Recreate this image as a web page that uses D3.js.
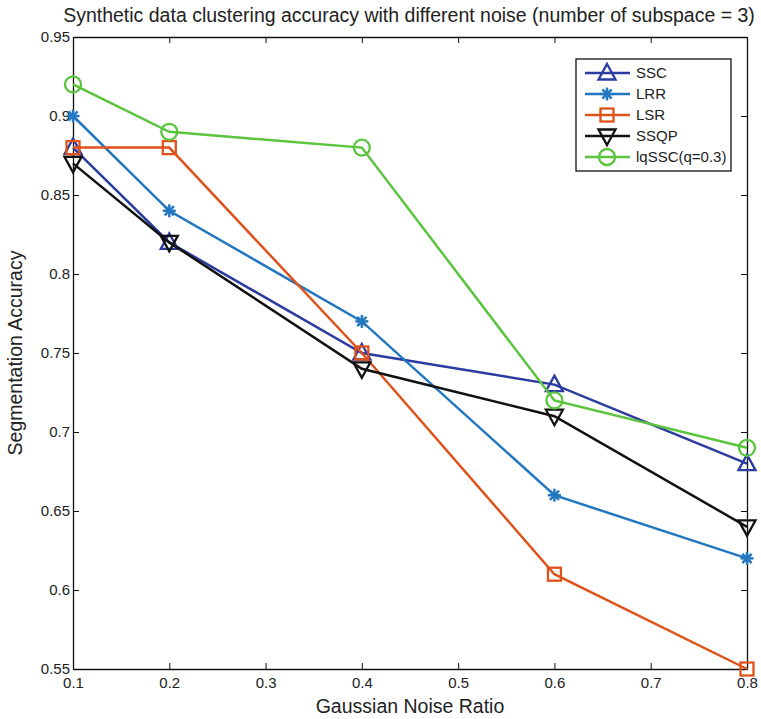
<!DOCTYPE html>
<html>
<head>
<meta charset="utf-8">
<script src="https://cdn.jsdelivr.net/npm/d3@7"></script>
<style>
  body { margin: 0; background: #fff; }
  svg { font-family: "Liberation Sans", Arial, sans-serif; }
</style>
</head>
<body>
<script>
// data
const noise = [0.1, 0.2, 0.4, 0.6, 0.8];
const ssc   = [0.88, 0.82, 0.75, 0.73, 0.68];
const lrr   = [0.90, 0.84, 0.77, 0.66, 0.62];
const lsr   = [0.88, 0.88, 0.75, 0.61, 0.55];
const ssqp  = [0.87, 0.82, 0.74, 0.71, 0.64];
const lqssc = [0.92, 0.89, 0.88, 0.72, 0.69];
const xTicks = [0.1, 0.2, 0.3, 0.4, 0.5, 0.6, 0.7, 0.8];
const yTicks = [0.55, 0.6, 0.65, 0.7, 0.75, 0.8, 0.85, 0.9, 0.95];

const series = [
    { name: "SSC", values: ssc, color: "#2b3b9f", marker: "tri" },
    { name: "LRR", values: lrr, color: "#2377c0", marker: "star" },
    { name: "LSR", values: lsr, color: "#e0521b", marker: "square" },
    { name: "SSQP", values: ssqp, color: "#111111", marker: "tridown" },
    { name: "lqSSC(q=0.3)", values: lqssc, color: "#5ac43d", marker: "circle" }
];

const width = 761;
const height = 719;
const marginTop = 37;
const marginRight = 14;
const marginBottom = 50;
const marginLeft = 73;

const x = d3.scaleLinear()
    .domain([0.1, 0.8])
    .range([marginLeft, width - marginRight]);

const y = d3.scaleLinear()
    .domain([0.55, 0.95])
    .range([height - marginBottom, marginTop]);

const svg = d3.select("body").append("svg")
    .attr("width", width)
    .attr("height", height)
    .attr("viewBox", [0, 0, width, height]);

const fmt = d => d3.format("")(+d.toFixed(2));

// axes (ticks inside, boxed)
svg.append("g")
    .attr("transform", `translate(0,${height - marginBottom})`)
    .call(d3.axisBottom(x).tickValues(xTicks).tickFormat(fmt).tickSizeInner(-6).tickSizeOuter(0).tickPadding(8))
    .call(g => g.selectAll("text").style("font-size", "15px").attr("fill", "#222"));

svg.append("g")
    .attr("transform", `translate(0,${marginTop})`)
    .call(d3.axisTop(x).tickValues(xTicks).tickFormat("").tickSizeInner(-6).tickSizeOuter(0));

svg.append("g")
    .attr("transform", `translate(${marginLeft},0)`)
    .call(d3.axisLeft(y).tickValues(yTicks).tickFormat(fmt).tickSizeInner(-6).tickSizeOuter(0).tickPadding(3))
    .call(g => g.selectAll("text").style("font-size", "15px").attr("fill", "#222"));

svg.append("g")
    .attr("transform", `translate(${width - marginRight},0)`)
    .call(d3.axisRight(y).tickValues(yTicks).tickFormat("").tickSizeInner(-6).tickSizeOuter(0));

svg.selectAll(".domain").attr("stroke", "#111").attr("stroke-width", 1.3);
svg.selectAll(".tick line").attr("stroke", "#111");

// marker drawer
function drawMarker(g, type, color) {
    if (type === "tri") {
        g.append("path").attr("d", "M0,-9L8.5,6.5L-8.5,6.5Z")
            .attr("fill", "none").attr("stroke", color).attr("stroke-width", 2.3);
    } else if (type === "tridown") {
        g.append("path").attr("d", "M0,9L8.5,-6.5L-8.5,-6.5Z")
            .attr("fill", "none").attr("stroke", color).attr("stroke-width", 2.3);
    } else if (type === "square") {
        g.append("rect").attr("x", -6.5).attr("y", -6.5).attr("width", 13).attr("height", 13)
            .attr("fill", "none").attr("stroke", color).attr("stroke-width", 2.3);
    } else if (type === "circle") {
        g.append("circle").attr("r", 8)
            .attr("fill", "none").attr("stroke", color).attr("stroke-width", 2.3);
    } else if (type === "star") {
        [0, 45, 90, 135].forEach(a => {
            g.append("line").attr("x1", 0).attr("y1", -6.5).attr("x2", 0).attr("y2", 6.5)
                .attr("transform", `rotate(${a})`)
                .attr("stroke", color).attr("stroke-width", 2.5);
        });
    }
}

const line = d3.line()
    .x(d => x(d[0]))
    .y(d => y(d[1]));

series.forEach(s => {
    const pts = noise.map((n, i) => [n, s.values[i]]);
    svg.append("path")
        .datum(pts)
        .attr("fill", "none")
        .attr("stroke", s.color)
        .attr("stroke-width", 2.5)
        .attr("d", line);
    svg.append("g").selectAll("g")
        .data(pts)
        .join("g")
        .attr("transform", d => `translate(${x(d[0])},${y(d[1])})`)
        .each(function() { drawMarker(d3.select(this), s.marker, s.color); });
});

// legend
const legend = svg.append("g").attr("transform", "translate(576,59)");
legend.append("rect")
    .attr("width", 155).attr("height", 112)
    .attr("fill", "#fff").attr("stroke", "#111").attr("stroke-width", 1.3);

series.forEach((s, i) => {
    const row = legend.append("g").attr("transform", `translate(0,${14 + i * 21})`);
    row.append("line").attr("x1", 9).attr("x2", 54)
        .attr("stroke", s.color).attr("stroke-width", 2.5);
    drawMarker(row.append("g").attr("transform", "translate(31,0)"), s.marker, s.color);
    row.append("text").attr("x", 60).attr("dy", "0.35em")
        .style("font-size", "15px").attr("fill", "#222").text(s.name);
});

// titles
svg.append("text")
    .attr("x", 409).attr("y", 22)
    .attr("text-anchor", "middle")
    .style("font-size", "19.5px").attr("fill", "#222")
    .text("Synthetic data clustering accuracy with different noise (number of subspace = 3)");

svg.append("text")
    .attr("x", 410).attr("y", 713)
    .attr("text-anchor", "middle")
    .style("font-size", "19.5px").attr("fill", "#222")
    .text("Gaussian Noise Ratio");

svg.append("text")
    .attr("transform", `translate(22,${(marginTop + height - marginBottom) / 2}) rotate(-90)`)
    .attr("text-anchor", "middle")
    .style("font-size", "19.5px").attr("fill", "#222")
    .text("Segmentation Accuracy");
</script>
</body>
</html>
